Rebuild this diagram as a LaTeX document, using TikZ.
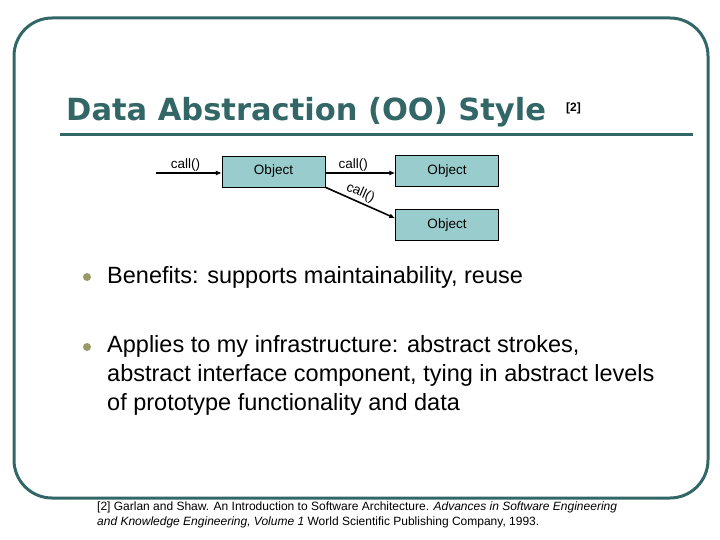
\documentclass[tikz,border=0pt]{standalone}
\usepackage{fontspec}
\setmainfont{Liberation Sans}
\newfontfamily\titlefont{DejaVu Sans}
\begin{document}
\begin{tikzpicture}[x=1pt,y=-1pt,
  frame/.style={draw=teal0,line width=3pt,rounded corners=38pt},
  obj/.style={draw=black,fill=objfill,minimum width=103pt,minimum height=31pt,inner sep=0pt,font=\fontsize{13.5}{15}\selectfont},
  conn/.style={line width=1.6pt,-{Latex[length=6pt,width=5pt]}},
  lbl/.style={font=\fontsize{13.5}{15}\selectfont,inner sep=0pt},
  bul/.style={circle,fill=bulc,inner sep=0pt,minimum size=8pt},
  btext/.style={anchor=north west,align=left,inner sep=0pt,font=\fontsize{23.5}{29}\selectfont}]
\usetikzlibrary{arrows.meta}
\definecolor{teal0}{HTML}{336666}
\definecolor{objfill}{HTML}{99CCCC}
\definecolor{bulc}{HTML}{999966}
\useasboundingbox (0,0) rectangle (720,540);
\draw[frame] (14,18) rectangle (708,498);
\node[anchor=base west,inner sep=0pt,text=teal0,font=\fontsize{30.5}{32}\titlefont\bfseries] (title) at (66,121) {Data Abstraction (OO) Style};
\node[anchor=base west,inner sep=0pt,font=\fontsize{12}{14}\selectfont\bfseries] (ref) at (566,112) {[2]};
\draw[teal0,line width=3pt] (60,135) -- (693,135);
\node[obj] (o1) at (273.5,171.5) {Object};
\node[obj] (o2) at (447,171) {Object};
\node[obj] (o3) at (447,225) {Object};
\coordinate (in) at (156,173);
\draw[conn] (in) -- (o1.west |- in) node[lbl,pos=0.45,above=1pt] {call()};
\draw[conn] (o1.east |- in) -- (o2.west |- in) node[lbl,pos=0.4,above=1pt] {call()};
\draw[conn] (o1.south east) -- ([yshift=-9pt]o3.north west) node[lbl,pos=0.45,above=2pt,sloped] {call()};
\node[bul] (b1) at (87,277) {};
\node[btext] (t1) at (107,266) {Benefits: supports maintainability, reuse};
\node[bul] (b2) at (87,347) {};
\node[btext] (t2) at (107,335) {Applies to my infrastructure: abstract strokes,\\abstract interface component, tying in abstract levels\\of prototype functionality and data};
\node[anchor=north west,align=left,inner sep=0pt,font=\fontsize{12}{15}\selectfont] (foot) at (97,502) {[2] Garlan and Shaw. An Introduction to Software Architecture. \textit{Advances in Software Engineering}\\\textit{and Knowledge Engineering, Volume 1} World Scientific Publishing Company, 1993.};
\end{tikzpicture}
\end{document}
